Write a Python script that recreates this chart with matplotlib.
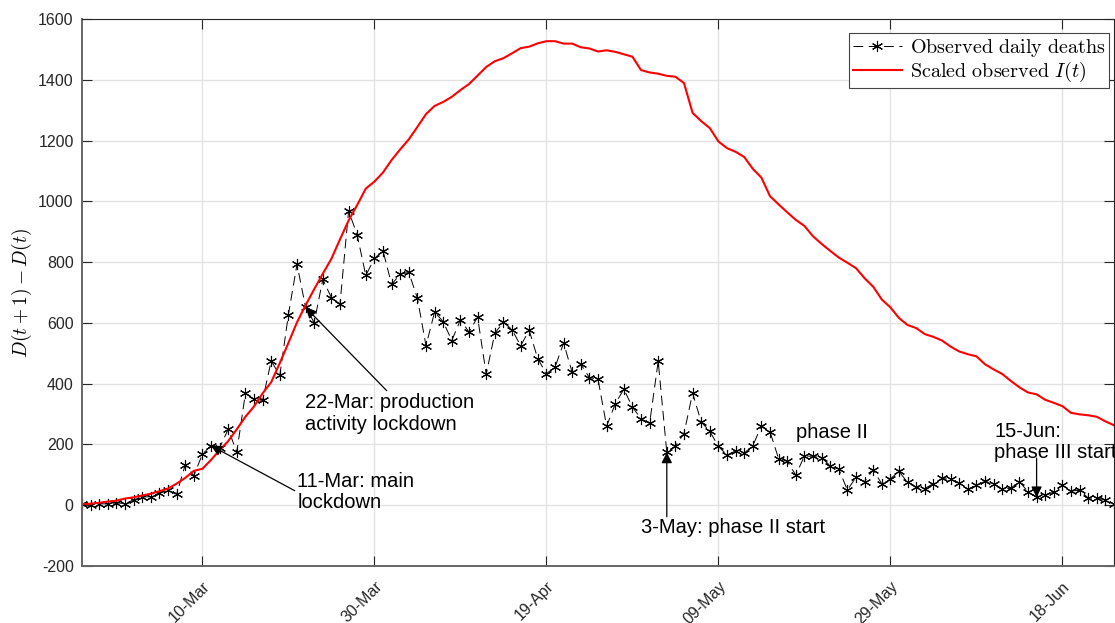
import numpy as np
import pandas as pd
import matplotlib
matplotlib.use('Agg')
import matplotlib.pyplot as plt
import matplotlib.dates as mdates

plt.rcParams['font.family'] = ['Liberation Sans', 'DejaVu Sans']
plt.rcParams['mathtext.fontset'] = 'cm'
plt.rcParams['axes.unicode_minus'] = False
plt.rcParams['lines.scale_dashes'] = False

# daily data, 25-Feb-2020 .. 24-Jun-2020
start_date = '2020-02-25'
end_date = '2020-06-24'

daily_deaths = [
    3, 2, 5, 4, 8,
    5, 18, 27, 28, 41, 49, 36, 133, 97, 168, 196, 189, 250, 175, 368, 349, 345, 475, 427, 627,
    793, 651, 601, 743, 683, 662, 969, 889, 756, 812, 837,
    727, 760, 766, 681, 525, 636, 604, 542, 610, 570, 619, 431, 566, 602, 578, 525, 575, 482,
    433, 454, 534, 437, 464, 420, 415, 260, 333, 382, 323, 285,
    269, 474, 174, 195, 236, 369, 274, 243, 194, 165, 179, 172, 195, 262, 242, 153, 145, 99,
    162, 161, 156, 130, 119, 50, 92, 78, 117, 70, 87, 111, 75,
    60, 55, 71, 88, 85, 72, 53, 65, 79, 71, 53, 56, 78, 44, 26, 34, 43, 66, 47, 49, 24, 23,
    18, 3,
]

scaled_infected = [
    4, 5, 8, 12, 15,
    22, 26, 32, 38, 46, 55, 71, 90, 113, 120, 149, 181, 211, 250, 291, 325, 368, 405, 468, 534,
    602, 658, 711, 762, 811, 875, 937, 988, 1042, 1065, 1095,
    1136, 1171, 1204, 1245, 1287, 1314, 1327, 1344, 1366, 1386, 1414, 1442, 1461, 1471, 1487,
    1504, 1509, 1520, 1527, 1527, 1519, 1519, 1507, 1503, 1493, 1497, 1492, 1484, 1476, 1432,
    1424, 1420, 1413, 1410, 1389, 1291, 1264, 1241, 1197, 1175, 1163, 1146, 1107, 1078, 1017,
    990, 964, 939, 919, 885, 860, 837, 815, 798, 780, 747, 719, 677, 651, 616, 593,
    583, 563, 554, 542, 522, 506, 497, 490, 464, 447, 432, 409, 388, 371, 365, 347, 337, 326,
    304, 299, 296, 291, 276, 263,
]

tick_dates = ['2020-03-10', '2020-03-30', '2020-04-19', '2020-05-09', '2020-05-29', '2020-06-18']
tick_labels = ['10-Mar', '30-Mar', '19-Apr', '09-May', '29-May', '18-Jun']
y_ticks = list(range(-200, 1601, 200))

dates = mdates.date2num(pd.date_range(start_date, end_date, freq='D').to_pydatetime())


def when(day, offset=0.0):
    return mdates.datestr2num(day) + offset


fig = plt.figure(figsize=(11.15, 6.23), dpi=100)
ax = fig.add_axes([82 / 1115, 1 - 566 / 623, (1114 - 82) / 1115, (566 - 19) / 623])

ax.plot(dates, daily_deaths, color='k', linestyle='--', dashes=(7, 4), linewidth=0.7,
        marker=(6, 2, 0), markersize=8, markeredgewidth=0.8,
        label=r'$\mathrm{Observed\ daily\ deaths}$')
ax.plot(dates, scaled_infected, color='#ff0000', linewidth=1.5,
        label=r'$\mathrm{Scaled\ observed\ }I(t)$')

ax.set_xlim(dates[0], dates[-1])
ax.set_ylim(-200, 1600)
ax.set_yticks(y_ticks)
ax.set_yticklabels([str(v) for v in y_ticks], fontsize=11.5)
ax.set_xticks([when(d) for d in tick_dates])
ax.set_xticklabels(tick_labels, fontsize=11.5, rotation=45, ha='right', va='top',
                   rotation_mode='anchor')
ax.set_ylabel(r'$D(t+1)-D(t)$', fontsize=14, labelpad=3)

ax.grid(True, color='#e2e2e2', linewidth=1)
ax.set_axisbelow(True)
ax.tick_params(direction='in', length=7, width=0.8, top=True, right=True, colors='#262626',
               labelcolor='#262626')
ax.tick_params(axis='y', pad=6)
ax.tick_params(axis='x', pad=9)
for side in ['top', 'right']:
    ax.spines[side].set_color('#262626')
    ax.spines[side].set_linewidth(0.8)
for side in ['left', 'bottom']:
    ax.spines[side].set_color('#666666')
    ax.spines[side].set_linewidth(1.4)

arrow = dict(arrowstyle='-|>', color='k', linewidth=0.9, mutation_scale=16,
             shrinkA=0, shrinkB=0)
note_size = 14.5

ax.annotate('11-Mar: main\nlockdown', xy=(when('2020-03-11'), 196),
            xytext=(when('2020-03-21', 0.05), 43), ha='left', va='center',
            fontsize=note_size, linespacing=1.15,
            arrowprops=dict(arrow, relpos=(0, 0.5)))
ax.annotate('22-Mar: production\nactivity lockdown', xy=(when('2020-03-22'), 651),
            xytext=(when('2020-03-31', 0.74), 368), ha='center', va='top',
            multialignment='left', fontsize=note_size, linespacing=1.15,
            arrowprops=dict(arrow, relpos=(0.5, 1)))

ax.annotate('', xy=(when('2020-05-03'), 174), xytext=(when('2020-05-03'), -38),
            arrowprops=arrow)
ax.text(when('2020-04-30'), -43, '3-May: phase II start', ha='left', va='top',
        fontsize=note_size)

ax.annotate('', xy=(when('2020-06-15'), 26), xytext=(when('2020-06-15'), 155),
            arrowprops=arrow)
ax.text(when('2020-06-10', 0.1), 143, '15-Jun:\nphase III start', ha='left',
        va='bottom', fontsize=note_size, linespacing=1.15, clip_on=False)

ax.text(when('2020-05-18', 0.07), 220, 'phase II', ha='left', va='baseline',
        fontsize=note_size)

leg = ax.legend(loc='upper right', bbox_to_anchor=(0.9952, 0.9744), borderaxespad=0,
                fontsize=14.5, handlelength=2.4, handletextpad=0.4, borderpad=0.2,
                labelspacing=0.05, fancybox=False, framealpha=1, edgecolor='#444444')
leg.get_frame().set_linewidth(0.8)

fig.savefig('out.png', dpi=100)
